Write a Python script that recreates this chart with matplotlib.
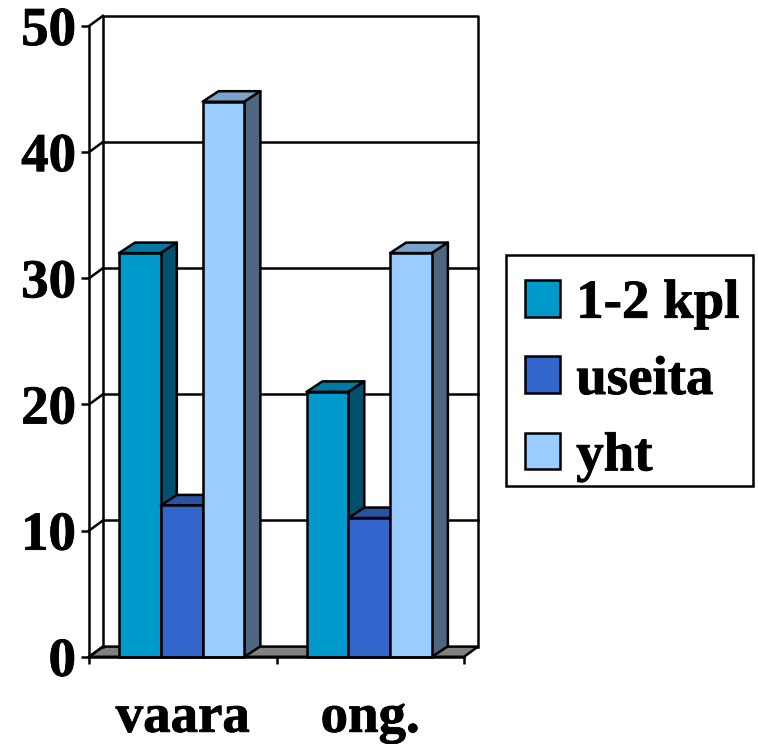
import matplotlib
matplotlib.use("Agg")
import matplotlib.pyplot as plt
from matplotlib.patches import Patch, Rectangle
from matplotlib.patheffects import withStroke

categories = ["vaara", "ong."]
series_names = ["1-2 kpl", "useita", "yht"]
val_12kpl = [32, 21]
val_useita = [12, 11]
val_yht = [44, 32]
all_values = [val_12kpl, val_useita, val_yht]
front_colors = ["#0099CC", "#3366CC", "#99CCFF"]
top_colors = ["#007AA3", "#2952A3", "#7AA3CC"]
side_colors = ["#00506E", "#1F3D7A", "#506680"]
y_ticks = [0, 10, 20, 30, 40, 50]

W, H = 758, 744
plt.rcParams["font.family"] = ["Liberation Serif", "DejaVu Serif"]
plt.rcParams["font.weight"] = "bold"
FS = 39.5
LW = 1.8
bold = [withStroke(linewidth=0.6, foreground="black")]

fig = plt.figure(figsize=(W / 100, H / 100), dpi=100, facecolor="white")
x0, x1, y0, y50 = 89.0, 464.0, 656.8, 26.0
ax = fig.add_axes([x0 / W, 1 - y0 / H, (x1 - x0) / W, (y0 - y50) / H])
ax.set_xlim(0, len(categories))
ax.set_ylim(0, 50)
ax.patch.set_visible(False)
ux = len(categories) / (x1 - x0)
uy = 50 / (y0 - y50)

wall_dx, wall_dy = 14 * ux, 10.2 * uy
bar_dx, bar_dy = 16 * ux, 10.5 * uy
bar_w = 41.8 * ux
gap = 30 * ux

line = dict(color="black", lw=LW, clip_on=False, solid_capstyle="projecting")
ax.fill([0, wall_dx, 2 + wall_dx, 2], [0, wall_dy, wall_dy, 0], fc="#808080",
        ec="black", lw=LW, clip_on=False, zorder=1)
ax.plot([wall_dx, wall_dx, 2 + wall_dx, 2 + wall_dx],
        [wall_dy, 50 + wall_dy, 50 + wall_dy, wall_dy], zorder=1, **line)
for t in y_ticks:
    ax.plot([0, wall_dx], [t, t + wall_dy], zorder=1, **line)
    if 0 < t < 50:
        ax.plot([wall_dx, 2 + wall_dx], [t + wall_dy, t + wall_dy], zorder=1, **line)

z = 2
for c in range(len(categories)):
    for s, vals in enumerate(all_values):
        l = c + gap + s * bar_w
        r = l + bar_w
        v = vals[c]
        ek = dict(ec="black", lw=LW, clip_on=False, joinstyle="round")
        ax.fill([l, l + bar_dx, r + bar_dx, r], [v, v + bar_dy, v + bar_dy, v],
                fc=top_colors[s], zorder=z, **ek)
        ax.fill([r, r + bar_dx, r + bar_dx, r], [0, bar_dy, v + bar_dy, v],
                fc=side_colors[s], zorder=z, **ek)
        ax.bar(l, v, width=bar_w, align="edge", color=front_colors[s],
               edgecolor="black", linewidth=LW, clip_on=False, zorder=z + 0.5)
        z += 1

for sp in ("top", "right"):
    ax.spines[sp].set_visible(False)
for sp in ("left", "bottom"):
    ax.spines[sp].set_linewidth(LW)
    ax.spines[sp].set_zorder(50)

ax.set_yticks(y_ticks)
ax.set_yticklabels([str(t) for t in y_ticks], fontsize=FS, fontweight="bold", path_effects=bold)
ax.set_xticks(range(len(categories) + 1))
ax.set_xticklabels([""] * (len(categories) + 1))
ax.tick_params(axis="y", length=5.8, width=LW, pad=3.5)
ax.tick_params(axis="x", length=5.2, width=LW)
for i, name in enumerate(categories):
    ax.annotate(name, xy=(i + 0.5, 0), xycoords="data", xytext=(0, -75),
                textcoords="offset pixels", ha="center", va="baseline",
                fontsize=FS, fontweight="bold", annotation_clip=False, path_effects=bold)

fig.add_artist(Rectangle((505.8 / W, 1 - 485.7 / H), 247 / W, 230.7 / H,
                         transform=fig.transFigure, fc="white", ec="black", lw=LW, zorder=3))
handles = [Patch(fc=front_colors[i], ec="black", lw=LW) for i in range(3)]
leg = fig.legend(handles, series_names, loc="upper left",
                 bbox_to_anchor=(505.5 / W, 1 - 260.5 / H), bbox_transform=fig.transFigure,
                 fontsize=FS, frameon=False, borderaxespad=0, borderpad=0.35,
                 handlelength=0.65, handleheight=0.65, handletextpad=0.29,
                 labelspacing=0.48)
leg.set_zorder(4)
for t in leg.get_texts():
    t.set_path_effects(bold)

fig.savefig("out.png", dpi=100, facecolor="white")
